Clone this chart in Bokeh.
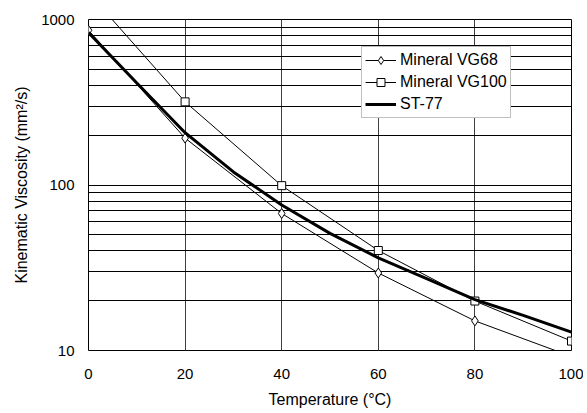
from bokeh.plotting import figure
from bokeh.models import (Range1d, FixedTicker, Legend, LegendItem,
                          PrintfTickFormatter)
from bokeh.embed import file_html
from bokeh.resources import INLINE

# ---- data ----
temp_markers = [0, 20, 40, 60, 80, 100]
vg68 = [861, 192, 67.3, 29.4, 15.1, 9.2]
vg100 = [1450, 318, 99.1, 40.2, 19.9, 11.4]
st77_temp = [0, 10, 20, 30, 40, 50, 60, 70, 80, 90, 100]
st77 = [834, 413, 207, 120, 75.7, 51, 36.3, 27.2, 20.3, 16.3, 12.9]
x_ticks = [0, 20, 40, 60, 80, 100]
y_ticks = [10, 100, 1000]
y_minor_ticks = [20, 30, 40, 50, 60, 70, 80, 90,
                 200, 300, 400, 500, 600, 700, 800, 900]

FONT = "Liberation Sans"

p = figure(width=583, height=411, y_axis_type="log",
           x_range=Range1d(0, 100), y_range=Range1d(10, 1000),
           output_backend="svg", toolbar_location=None,
           min_border_left=88, min_border_right=12,
           min_border_top=19, min_border_bottom=61)

p.background_fill_color = "white"
p.border_fill_color = "white"
p.outline_line_color = "black"
p.outline_line_width = 1

# axes
y_ticker = FixedTicker(ticks=y_ticks, minor_ticks=y_minor_ticks)
p.xaxis.ticker = FixedTicker(ticks=x_ticks)
p.yaxis.ticker = y_ticker
p.yaxis.formatter = PrintfTickFormatter(format="%d")
for ax in (p.xaxis[0], p.yaxis[0]):
    ax.axis_line_color = None
    ax.major_tick_line_color = None
    ax.minor_tick_line_color = None
    ax.major_tick_out = 0
    ax.minor_tick_out = 0
    ax.major_label_text_font = FONT
    ax.major_label_text_font_size = "15px"
    ax.major_label_text_color = "black"
    ax.axis_label_text_font = FONT
    ax.axis_label_text_font_size = "16px"
    ax.axis_label_text_font_style = "normal"
    ax.axis_label_text_color = "black"

p.xaxis.major_label_standoff = 18
p.yaxis.major_label_standoff = 14
p.xaxis.axis_label = "Temperature (\u00b0C)"
p.xaxis.axis_label_standoff = 9
p.yaxis.axis_label = "Kinematic Viscosity (mm\u00b2/s)"
p.yaxis.axis_label_standoff = 8

# grid
p.xgrid.ticker = FixedTicker(ticks=x_ticks)
p.xgrid.grid_line_color = "#404040"
p.xgrid.grid_line_width = 1
p.ygrid.ticker = y_ticker
p.ygrid.grid_line_color = "black"
p.ygrid.grid_line_width = 1
p.ygrid.minor_grid_line_color = "black"
p.ygrid.minor_grid_line_width = 1

# series
l68 = p.line(temp_markers, vg68, line_color="black", line_width=1)
m68 = p.scatter(temp_markers, vg68, marker="diamond", size=10,
                fill_color="white", line_color="black", line_width=1)
l100 = p.line(temp_markers, vg100, line_color="black", line_width=1)
m100 = p.scatter(temp_markers, vg100, marker="square", size=8,
                 fill_color="white", line_color="black", line_width=1)
lst = p.line(st77_temp, st77, line_color="black", line_width=3)

legend = Legend(items=[
    LegendItem(label="Mineral VG68", renderers=[l68, m68]),
    LegendItem(label="Mineral VG100", renderers=[l100, m100]),
    LegendItem(label="ST-77", renderers=[lst]),
], location=(273, 232))
legend.label_text_font = FONT
legend.label_text_font_size = "16px"
legend.label_text_color = "black"
legend.glyph_width = 31
legend.glyph_height = 20
legend.label_height = 20
legend.label_standoff = 4
legend.padding = 3
legend.spacing = 2
legend.margin = 0
legend.border_line_color = "#808080"
legend.border_line_width = 1
legend.background_fill_color = "white"
legend.background_fill_alpha = 1.0
p.add_layout(legend, "center")

open("out.html", "w").write(file_html(p, INLINE))
